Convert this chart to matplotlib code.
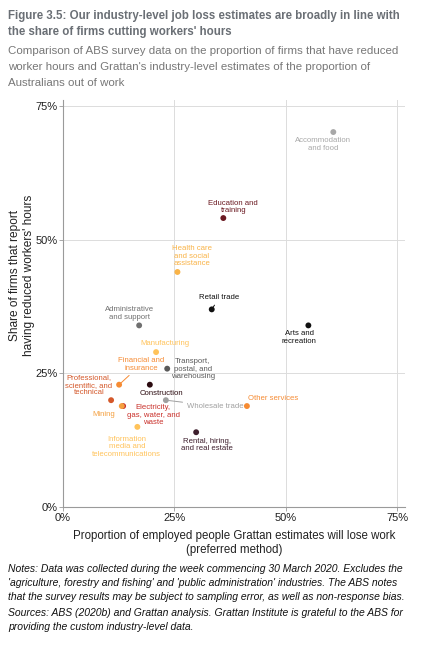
import matplotlib
matplotlib.use("Agg")
import matplotlib.pyplot as plt
from matplotlib.ticker import FuncFormatter

plt.rcParams['font.family'] = ['Liberation Sans', 'DejaVu Sans']

# industries, Grattan job-loss estimate (x, %) and ABS share of firms cutting hours (y, %)
industries = ["Accommodation\nand food", "Education and\ntraining",
              "Health care\nand social\nassistance", "Retail trade",
              "Administrative\nand support", "Arts and\nrecreation", "Manufacturing",
              "Transport,\npostal, and\nwarehousing", "Financial and\ninsurance",
              "Professional,\nscientific, and\ntechnical", "Construction",
              "Electricity,\ngas, water, and\nwaste", "Mining", "Wholesale trade",
              "Other services", "Information\nmedia and\ntelecommunications",
              "Rental, hiring,\nand real estate"]
job_loss = [60.7, 36.0, 25.7, 33.4, 17.1, 55.1, 20.9, 23.4, 12.6, 10.8, 19.5,
            13.5, 13.2, 23.1, 41.3, 16.7, 29.9]
cut_hours = [70.2, 54.1, 44.0, 37.0, 34.0, 34.0, 29.0, 25.9, 22.9, 20.0, 22.9,
             18.9, 18.9, 20.0, 18.9, 15.0, 14.0]
colours = ["#A8A8A8", "#6B1A22", "#F9B347", "#111111", "#707070", "#111111",
           "#FFC35A", "#5A5A5A", "#F68B33", "#D4582A", "#2B0B10", "#C9302A",
           "#F4A040", "#A0A0A0", "#F68B33", "#FFC35A", "#3E1F2D"]

# label offsets in points from each point; leader lines for a few
offsets = [(-7.2, -8.9), (7.2, 7.9), (10.4, 11.3), (5.5, 8.4), (-7.0, 8.4),
           (-6.5, -8.6), (6.5, 6.5), (18.3, -0.5), (15.8, 14.6), (-16.1, 10.8),
           (8.4, -6.0), (21.6, -6.7), (-13.2, -6.0), (15.0, -4.3), (19.2, 5.3),
           (-7.6, -14.4), (7.7, -9.1)]
leaders = ["Retail trade", "Financial and\ninsurance", "Wholesale trade"]

ticks = [0, 25, 50, 75]

fig = plt.figure(figsize=(4.39, 6.47), dpi=100)
ax = fig.add_axes([63/439, 1-507/647, (405-63)/439, (507-100)/647])

ax.set_xlim(0, 76.8)
ax.set_ylim(0, 76.2)
ax.set_xticks(ticks)
ax.set_yticks(ticks)
pct = FuncFormatter(lambda v, p: f"{v:.0f}%")
ax.xaxis.set_major_formatter(pct)
ax.yaxis.set_major_formatter(pct)
ax.grid(True, color="#DCDCDC", linewidth=0.7)
ax.set_axisbelow(True)
for s in ["top", "right"]:
    ax.spines[s].set_visible(False)
for s in ["left", "bottom"]:
    ax.spines[s].set_color("#9A9A9A")
    ax.spines[s].set_linewidth(0.8)
ax.tick_params(length=3, width=0.6, color="#9A9A9A", labelsize=8, pad=1, labelcolor="#222222")

ax.scatter(job_loss, cut_hours, s=18, c=colours, zorder=3, linewidths=0)

for name, x, y, c, off in zip(industries, job_loss, cut_hours, colours, offsets):
    ha = "left" if name == "Wholesale trade" else "center"
    arrow = dict(arrowstyle="-", color=c, lw=0.7, shrinkA=1, shrinkB=2) if name in leaders else None
    ax.annotate(name, (x, y), xytext=off, textcoords="offset points",
                ha=ha, va="center", fontsize=5.6, color=c, linespacing=1.12,
                arrowprops=arrow, zorder=4)

fig.text(22/439, 1-275/647, "Share of firms that report\nhaving reduced workers' hours",
         rotation=90, ha="center", va="center", fontsize=8.6, linespacing=1.3, color="#222222")
fig.text(234/439, 1-543/647, "Proportion of employed people Grattan estimates will lose work\n(preferred method)",
         ha="center", va="center", fontsize=8.3, linespacing=1.25, color="#222222")

grey = "#6A6F75"
fig.text(8/439, 1-15.7/647, "Figure 3.5: Our industry-level job loss estimates are broadly in line with",
         fontsize=8.3, fontweight="bold", color=grey, va="center")
fig.text(8/439, 1-32.3/647, "the share of firms cutting workers' hours",
         fontsize=8.3, fontweight="bold", color=grey, va="center")
subtitle = ["Comparison of ABS survey data on the proportion of firms that have reduced",
            "worker hours and Grattan's industry-level estimates of the proportion of",
            "Australians out of work"]
for i, line in enumerate(subtitle):
    fig.text(8/439, 1-(50.7+16*i)/647, line, fontsize=8.25, color="#777777", va="center")

notes = [("Notes: Data was collected during the week commencing 30 March 2020. Excludes the", 569),
         ("'agriculture, forestry and fishing' and 'public administration' industries. The ABS notes", 583.3),
         ("that the survey results may be subject to sampling error, as well as non-response bias.", 597.3),
         ("Sources: ABS (2020b) and Grattan analysis. Grattan Institute is grateful to the ABS for", 613.3),
         ("providing the custom industry-level data.", 626.7)]
for line, ypx in notes:
    fig.text(8/439, 1-ypx/647, line, fontsize=7.45, style="italic", color="#111111", va="center")

fig.savefig("out.png", dpi=100)
